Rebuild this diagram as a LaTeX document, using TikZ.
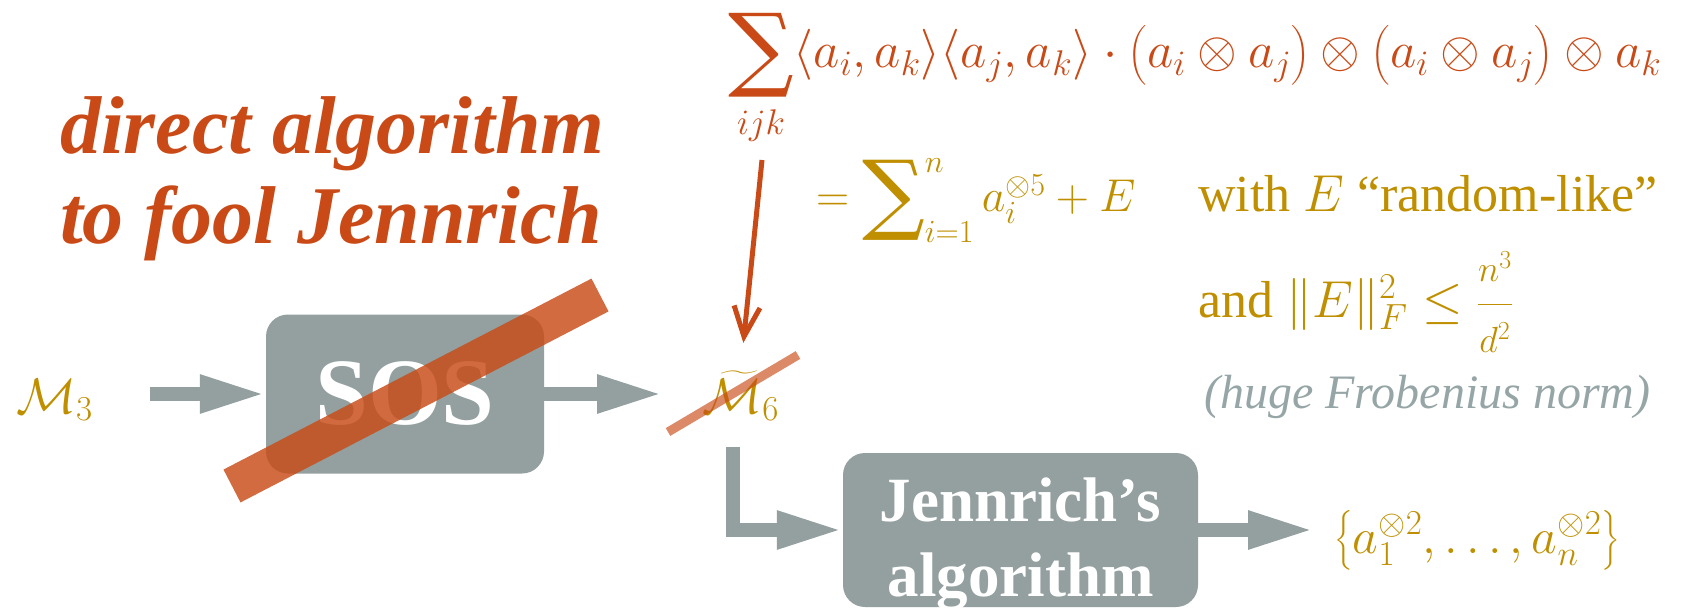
\RequirePackage{fix-cm}
\documentclass[tikz,border=0pt]{standalone}
\usepackage{amsmath}
\usepackage{fontspec}
\setmainfont{Liberation Serif}
\newfontfamily\sumfont{DejaVu Serif}
\usepackage{tikz}
\usetikzlibrary{arrows.meta}
\definecolor{rust}{RGB}{201,74,22}
\definecolor{gold}{RGB}{191,143,0}
\definecolor{slate}{RGB}{147,160,159}
\definecolor{lightslate}{RGB}{150,165,166}
% a tall sum sign, centred on the math axis
\newcommand{\tallsum}[1]{\mathop{\vcenter{\hbox{\sumfont\fontsize{#1}{#1}\selectfont ∑}}}}

\begin{document}
\begin{tikzpicture}[x=1pt, y=-1pt,
    box/.style={rectangle, rounded corners=22pt, fill=slate, inner sep=0pt},
    arrow/.style={-{Triangle[length=66pt, width=35pt]}, line width=14pt, draw=slate},
    redarrow/.style={-{Straight Barb[length=30pt, width=26pt]}, line width=5pt, draw=rust},
    txt/.style={inner sep=0pt, anchor=base west},
    strike/.style={line width=#1, draw=rust, opacity=0.82}
]
    \useasboundingbox (0,0) rectangle (1705,612);

    % title
    \node[inner sep=0pt, anchor=north west, align=left, text=rust,
          font=\fontsize{82}{90}\selectfont\bfseries\itshape] (title) at (60,96)
          {direct algorithm\\to fool Jennrich};

    % pipeline
    \node[txt, text=gold, font=\fontsize{50}{50}\selectfont] (m3) at (16,413) {$\mathcal{M}_3$};
    \node[box, minimum width=278pt, minimum height=159pt, text=white,
          font=\fontsize{95}{95}\selectfont\bfseries] (sos) at (405,394) {SOS};
    \node[txt, text=gold, font=\fontsize{50}{50}\selectfont] (mt6) at (702,413) {$\widetilde{\mathcal{M}}_6$};
    \node[box, minimum width=355pt, minimum height=154pt] (jen) at (1020.5,530) {};
    \node[inner sep=0pt, anchor=north, align=center, text=white,
          font=\fontsize{63}{75}\selectfont\bfseries] (jenlabel) at (1020.5,478) {Jennrich’s\\algorithm};
    \node[txt, text=gold, font=\fontsize{50}{50}\selectfont] (out) at (1334,553)
          {$\bigl\{a_1^{\otimes 2},\dots,a_n^{\otimes 2}\bigr\}$};

    % formulas
    \node[txt, text=rust, font=\fontsize{51}{51}\selectfont] (topsum) at (728,68)
          {$\tallsum{92}\limits_{\rule{0pt}{33pt}ijk}\langle a_i,a_k\rangle\langle a_j,a_k\rangle\cdot\bigl(a_i\otimes a_j\bigr)\otimes\bigl(a_i\otimes a_j\bigr)\otimes a_k$};
    \node[txt, text=gold, font=\fontsize{46}{46}\selectfont] (expand) at (816,212)
          {$=\tallsum{88}\nolimits_{i=1}^{n} a_i^{\otimes 5}+E$};
    \node[txt, text=gold, font=\fontsize{52}{52}\selectfont] (withE) at (1198,212) {with $E$ “random-like”};
    \node[txt, text=gold, font=\fontsize{52}{52}\selectfont] (normE) at (1198,317)
          {and $\|E\|_F^2\le\dfrac{\scriptstyle n^3}{\scriptstyle d^2}$};
    \node[txt, text=lightslate, font=\fontsize{48}{48}\selectfont\itshape] (huge) at (1204,408) {(huge Frobenius norm)};

    % connectors
    \draw[arrow, shorten <=57pt] (sos.west -| m3.east) -- (sos.west);
    \draw[arrow, shorten >=39pt] (sos.east) -- (sos.east -| mt6.west);
    \draw[arrow, shorten <=26pt] ([xshift=-8pt]mt6.south) |- (jen.west);
    \draw[arrow, shorten >=20pt] (jen.east) -- (jen.east -| out.west);
    \coordinate (sumfoot) at (762,160);
    \draw[redarrow, shorten >=28pt] (sumfoot) -- (mt6.north);

    % crossings out
    \draw[strike=37pt] (232,486) -- (600,295);
    \draw[strike=9pt, opacity=0.65] (668,432) -- (798,355);
\end{tikzpicture}
\end{document}
